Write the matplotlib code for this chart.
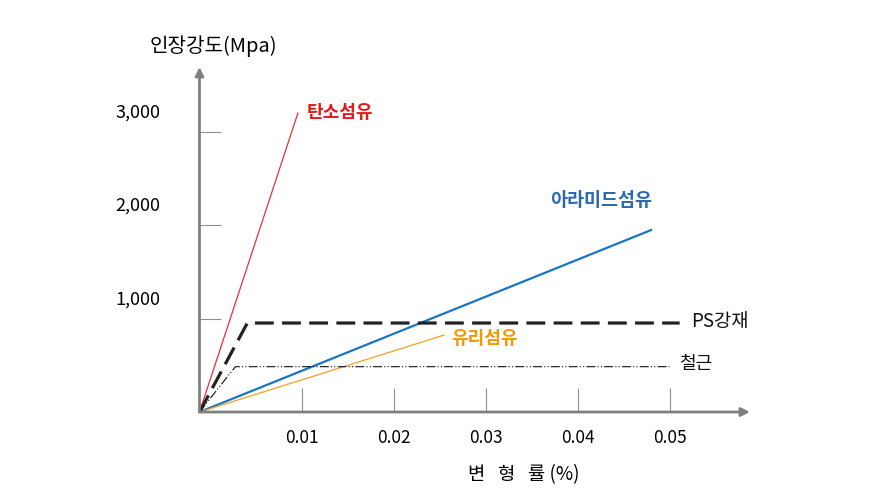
import matplotlib
matplotlib.use("Agg")
import matplotlib.pyplot as plt

plt.rcParams['font.family'] = ['Noto Sans CJK KR', 'DejaVu Sans']

# the drawn axes corner sits a little left of strain 0 in the original sketch
x_origin = -0.0011

carbon_x = [x_origin, 0.0096]
carbon_y = [0, 3205]
aramid_x = [x_origin, 0.0480]
aramid_y = [0, 1951]
glass_x = [x_origin, 0.0255]
glass_y = [0, 825]
ps_x = [x_origin, 0.0041, 0.0511]
ps_y = [0, 954, 954]
rebar_x = [x_origin, 0.0028, 0.0500]
rebar_y = [0, 486, 486]

x_ticks = [0.01, 0.02, 0.03, 0.04, 0.05]
x_labels = ['0.01', '0.02', '0.03', '0.04', '0.05']
y_ticks = [1000, 2000, 3000]
y_labels = ['1,000', '2,000', '3,000']

fig = plt.figure(figsize=(8.91, 5.04), dpi=100)
ax = fig.add_axes([0.2239, 0.1825, 0.6178, 0.6845])
ax.set_xlim(x_origin, 0.05874)
ax.set_ylim(0, 3698)

ax.plot(carbon_x, carbon_y, color='#e8303a', lw=0.9)
ax.plot(aramid_x, aramid_y, color='#1a75c0', lw=1.6)
ax.plot(glass_x, glass_y, color='#f5a023', lw=0.9)
ax.plot(ps_x, ps_y, color='#222222', lw=2.3, dashes=(5.9, 2.6))
ax.plot(rebar_x, rebar_y, color='#111111', lw=0.8, dashes=(8, 2, 1, 2, 1, 2))

# axes as arrows
for s in ax.spines.values():
    s.set_visible(False)
ax.annotate('', xy=(1.0, 0), xytext=(0, 0), xycoords='axes fraction',
            arrowprops=dict(arrowstyle='-|>,head_length=0.5,head_width=0.25',
                            color='#808080', lw=2.0, shrinkA=0, shrinkB=0))
ax.annotate('', xy=(0, 1.0), xytext=(0, 0), xycoords='axes fraction',
            arrowprops=dict(arrowstyle='-|>,head_length=0.5,head_width=0.25',
                            color='#808080', lw=2.0, shrinkA=0, shrinkB=0))

ax.set_xticks(x_ticks)
ax.set_xticklabels(x_labels, fontsize=12.5)
ax.set_yticks(y_ticks)
ax.set_yticklabels([])
ax.tick_params(axis='x', direction='in', length=17, width=0.8, color='#909090', pad=12)
ax.tick_params(axis='y', direction='in', length=16, width=0.8, color='#909090')

for v, lab in zip(y_ticks, y_labels):
    ax.annotate(lab, xy=(0, v), xycoords=('axes fraction', 'data'),
                xytext=(-28, 14), textcoords='offset points',
                ha='right', va='center', fontsize=13)

ax.text(0.0105, 3215, '탄소섬유', color='#e31a1c', fontsize=13, fontweight='bold', va='center')
ax.text(0.0370, 2272, '아라미드섬유', color='#2a6aad', fontsize=13.3, fontweight='bold', va='center')
ax.text(0.0263, 793, '유리섬유', color='#f39800', fontsize=13, fontweight='bold', va='center')
ax.text(0.0523, 975, 'PS강재', color='#111111', fontsize=13.5, va='center')
ax.text(0.0510, 514, '철근', color='#111111', fontsize=13, va='center')

fig.text(150 / 891, 1 - 46 / 504, '인장강도(Mpa)', fontsize=14.5, ha='left', va='center')
fig.text(468 / 891, 1 - 475 / 504, '변   형   률 (%)', fontsize=13.5, ha='left', va='center')

fig.savefig('out.png', dpi=100)
